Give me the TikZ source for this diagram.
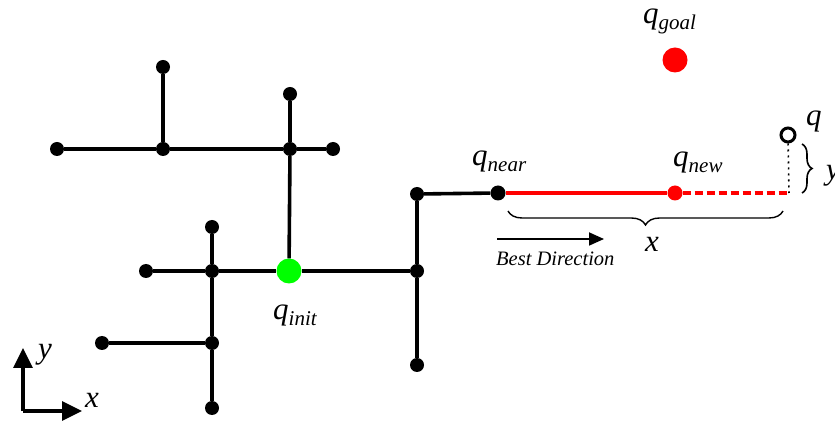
\documentclass[tikz,border=0pt]{standalone}
\usepackage{fontspec}
\setmainfont{Liberation Serif}
\usetikzlibrary{arrows.meta,decorations.pathreplacing}

% configuration label: italic q with a lowered italic subscript
\newcommand{\cfg}[1]{\textit{q}{\fontsize{21}{21}\selectfont\raisebox{-6pt}{\textit{#1}}}}

\tikzset{
  vtx/.style={circle,fill=black,inner sep=0pt,minimum size=14pt},
  edge/.style={line width=3.6pt},
  redge/.style={line width=3.6pt,red},
  lbl/.style={font=\fontsize{31}{31}\selectfont,inner sep=0pt,anchor=base west},
  axis/.style={line width=3.3pt,-{Triangle[length=20pt,width=19pt]}},
}

\begin{document}
\begin{tikzpicture}[x=1pt,y=1pt]
\useasboundingbox (0,0) rectangle (835,423);

% tree vertices
\node[vtx] (a0) at (57,274) {};
\node[vtx] (a1) at (163,356) {};
\node[vtx] (a2) at (163,274) {};
\node[vtx] (a3) at (290,274) {};
\node[vtx] (a4) at (333,274) {};
\node[vtx] (a5) at (290,329) {};
\node[vtx] (b0) at (146,152) {};
\node[vtx] (b1) at (212,152) {};
\node[vtx] (b2) at (212,196) {};
\node[vtx] (b3) at (212,80) {};
\node[vtx] (b4) at (212,15) {};
\node[vtx] (b5) at (102,80) {};
\node[vtx] (c0) at (417,229) {};
\node[vtx] (c1) at (417,152) {};
\node[vtx] (c2) at (417,58) {};
\node[circle,fill=green,inner sep=0pt,minimum size=25pt] (qi) at (289,152) {};
\node[vtx,minimum size=15pt] (qn) at (498,230) {};
\node[circle,fill=red,inner sep=0pt,minimum size=15pt] (qw) at (675,230) {};
\node[circle,fill=red,inner sep=0pt,minimum size=25pt] (qg) at (675,363) {};
\node[circle,draw=black,line width=3pt,fill=white,inner sep=0pt,minimum size=14pt] (q) at (788,288) {};
\coordinate (qe) at (789,230);

% tree edges
\draw[edge] (a1) -- (a2);
\draw[edge] (a0) -- (a2) -- (a3) -- (a4);
\draw[edge] (a5) -- (a3) -- (qi);
\draw[edge] (b0) -- (b1) -- (qi) -- (c1);
\draw[edge] (b2) -- (b1) -- (b3) -- (b4);
\draw[edge] (b5) -- (b3);
\draw[edge] (c0) -- (c1) -- (c2);
\draw[edge] (c0) -- (qn);

% extension towards the sample
\draw[redge] (qn) -- (qw);
\draw[redge,dash pattern=on 8pt off 4pt] (qw) -- (qe);
\draw[line width=1.6pt,dash pattern=on 2pt off 4pt] (q) -- (qe);

% labels
\node[lbl] (li) at (273,103) {\cfg{init}};
\node[lbl] (ln) at (472,257) {\cfg{near}};
\node[lbl] (lw) at (673,256) {\cfg{new}};
\node[lbl] (lg) at (643,399) {\cfg{goal}};
\node[lbl] (lq) at (806,297) {\textit{q}};

% braces
\draw[line width=1.4pt,decorate,decoration={brace,mirror,amplitude=14pt}]
  (508,212) -- (783,212);
\node[lbl] (lx) at (645,171) {\textit{x}};
\draw[line width=1.6pt,decorate,decoration={brace,amplitude=10pt}]
  (802,279) -- (802,230);
\node[lbl] (ly) at (826,243) {\textit{y}};

% best direction
\coordinate (bd0) at (497,184);
\coordinate (bd1) at (604,184);
\draw[line width=1.8pt,-{Triangle[length=15pt,width=13pt]}] (bd0) -- (bd1);
\node[font=\fontsize{20.5}{20.5}\selectfont\itshape,inner sep=0pt,anchor=base west] (bdl) at (496,157) {Best Direction};

% axes
\coordinate (o) at (23,12);
\coordinate (ox) at (82,12);
\coordinate (oy) at (23,75);
\draw[axis] (o) -- (ox);
\draw[axis] (o) -- (oy);
\node[lbl] (ax) at (85,16) {\textit{x}};
\node[lbl] (ay) at (38,64) {\textit{y}};
\end{tikzpicture}
\end{document}
